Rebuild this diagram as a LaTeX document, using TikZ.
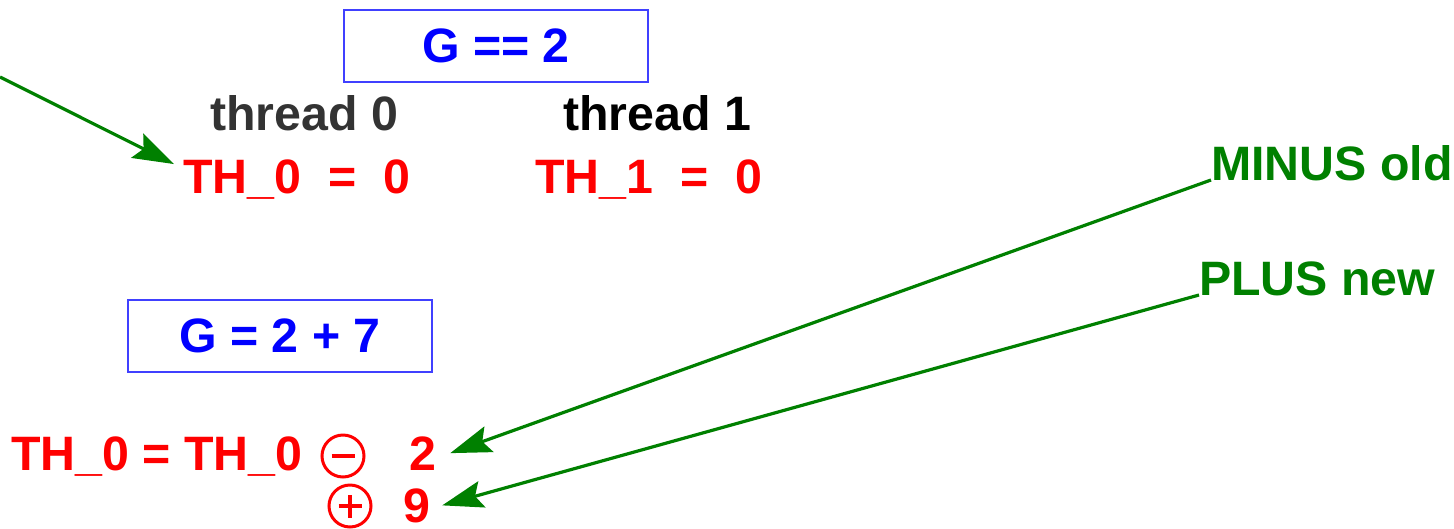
\documentclass[tikz,border=0pt]{standalone}
\usepackage{fontspec}
\setmainfont{Liberation Sans}
\usetikzlibrary{arrows.meta}
\definecolor{arrowgreen}{HTML}{008000}
\definecolor{threadgray}{HTML}{333333}

\begin{document}
\begin{tikzpicture}[x=1pt, y=-1pt, every node/.style={inner sep=0pt, font=\fontsize{48.3}{58}\selectfont\bfseries}]
\tikzset{
  labeltext/.style={anchor=base west},
  valbox/.style={draw=blue!75, line width=1.2pt, text=blue, minimum width=304pt, minimum height=72pt},
  opcirc/.style={draw=red, line width=3pt, circle, minimum size=42pt},
  pointer/.style={draw=arrowgreen, line width=3.2pt, -{Stealth[length=41pt,width=27pt,inset=7pt]}}
}
\useasboundingbox (0,0) rectangle (1454,528);

\node[valbox] (gtop) at (496,46) {G == 2};
\node[labeltext, text=threadgray] (thread0) at (210,130) {thread 0};
\node[labeltext] (thread1) at (563,130) {thread 1};
\node[labeltext, text=red] (th0) at (183,193) {TH\_0\ \ =\ \ 0};
\node[labeltext, text=red] (th1) at (535,193) {TH\_1\ \ =\ \ 0};

\node[labeltext, text=arrowgreen] (minusold) at (1211,180) {MINUS old};
\node[labeltext, text=arrowgreen] (plusnew) at (1199,295) {PLUS new};

\node[valbox] (gsum) at (280,336) {G = 2 + 7};

\node[labeltext, text=red] (th0calc) at (11,470) {TH\_0 = TH\_0};
\node[opcirc] (minuscirc) at (343,456) {};
\draw[red, line width=4pt] ([xshift=-11.5pt]minuscirc.center) -- ([xshift=11.5pt]minuscirc.center);
\node[labeltext, text=red] (two) at (409,470) {2};
\node[opcirc] (pluscirc) at (350,506) {};
\draw[red, line width=4pt] ([xshift=-11.5pt]pluscirc.center) -- ([xshift=11.5pt]pluscirc.center);
\draw[red, line width=4pt] ([yshift=-11.5pt]pluscirc.center) -- ([yshift=11.5pt]pluscirc.center);
\node[labeltext, text=red] (nine) at (403,522) {9};

% green pointers
\coordinate (offleft) at (0,77);
\draw[pointer] (offleft) -- ([xshift=-9pt,yshift=-5pt]th0.north west);
\draw[pointer] (minusold.base west) -- ([xshift=14pt]two.east);
\draw[pointer] (plusnew.base west) -- ([xshift=12pt]nine.east);
\end{tikzpicture}
\end{document}
